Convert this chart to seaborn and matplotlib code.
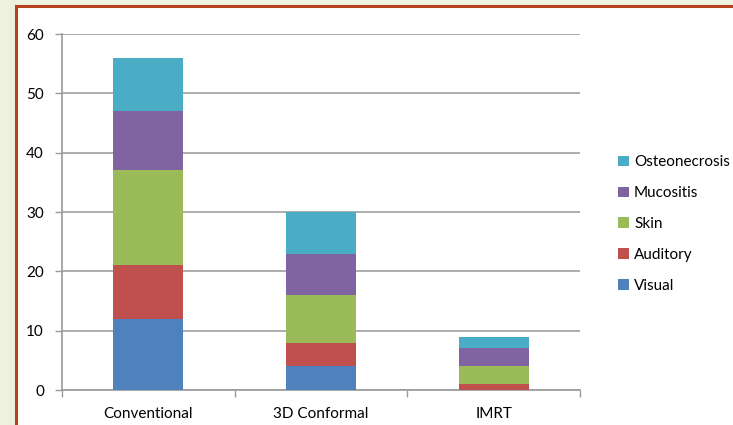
import matplotlib
matplotlib.use("Agg")
import matplotlib.pyplot as plt
from matplotlib.patches import Rectangle, Patch
import seaborn as sns
import pandas as pd
import numpy as np

# Complication counts per radiotherapy technique
categories = ["Conventional", "3D Conformal", "IMRT"]
visual = [12, 4, 0]
auditory = [9, 4, 1]
skin = [16, 8, 3]
mucositis = [10, 7, 3]
osteonecrosis = [9, 7, 2]

series_names = ["Visual", "Auditory", "Skin", "Mucositis", "Osteonecrosis"]
series_values = [visual, auditory, skin, mucositis, osteonecrosis]
colors = ["#4f81bd", "#c0504d", "#9bbb59", "#8064a2", "#4bacc6"]
yticks = [0, 10, 20, 30, 40, 50, 60]

sns.set_theme(style="white")
plt.rcParams["font.family"] = ["Lato", "DejaVu Sans"]

fig = plt.figure(figsize=(7.33, 4.25), dpi=100)
fig.patch.set_facecolor("#eef1df")

# white slide panel with a rust-coloured frame, kept behind the chart
panel = Rectangle((16 / 733, -0.05), 1.1, 1 - 6 / 425 + 0.05, transform=fig.transFigure,
                  facecolor="white", edgecolor="#b7411f", linewidth=2.2, zorder=-10)
fig.patches.append(panel)

ax = fig.add_axes([62 / 733, 1 - 390 / 425, (580 - 62) / 733, (390 - 34) / 425])
ax.set_zorder(1)
ax.set_facecolor("none")

# cumulative stacks, tallest first so each lower segment overdraws the previous
cum = np.cumsum(np.array(series_values), axis=0)
for i in range(len(series_names) - 1, -1, -1):
    df = pd.DataFrame({"category": categories, "total": cum[i]})
    sns.barplot(data=df, x="category", y="total", color=colors[i], width=0.405,
                saturation=1, ax=ax, zorder=3, linewidth=0)

ax.set_xlim(-0.5, 2.5)
ax.set_ylim(0, 60)
ax.set_yticks(yticks)
ax.set_xlabel("")
ax.set_ylabel("")
ax.yaxis.grid(True, color="#a0a0a0", linewidth=1.2, zorder=0)
ax.set_axisbelow(True)

for side in ["top", "right"]:
    ax.spines[side].set_visible(False)
for side in ["left", "bottom"]:
    ax.spines[side].set_color("#9a9a9a")
    ax.spines[side].set_linewidth(1.2)

ax.tick_params(axis="y", which="major", length=5, width=1, color="#9a9a9a",
               direction="out", labelsize=11, labelcolor="#000000", left=True, pad=8)
ax.tick_params(axis="x", which="major", length=0, labelsize=11, labelcolor="#000000", pad=12)
ax.set_xticks([-0.5, 0.5, 1.5, 2.5], minor=True)
ax.tick_params(axis="x", which="minor", length=5, width=1, color="#9a9a9a",
               direction="out", bottom=True)

handles = [Patch(facecolor=colors[i], edgecolor="none") for i in range(len(series_names) - 1, -1, -1)]
labels = series_names[::-1]
leg = fig.legend(handles, labels, loc="center left", bbox_to_anchor=(618 / 733, 1 - 224 / 425),
                 frameon=False, fontsize=11, handlelength=0.7, handleheight=0.7,
                 handletextpad=0.35, labelspacing=1.1, borderpad=0, borderaxespad=0)
for t in leg.get_texts():
    t.set_color("#000000")

fig.savefig("out.png", dpi=100, facecolor=fig.get_facecolor())
